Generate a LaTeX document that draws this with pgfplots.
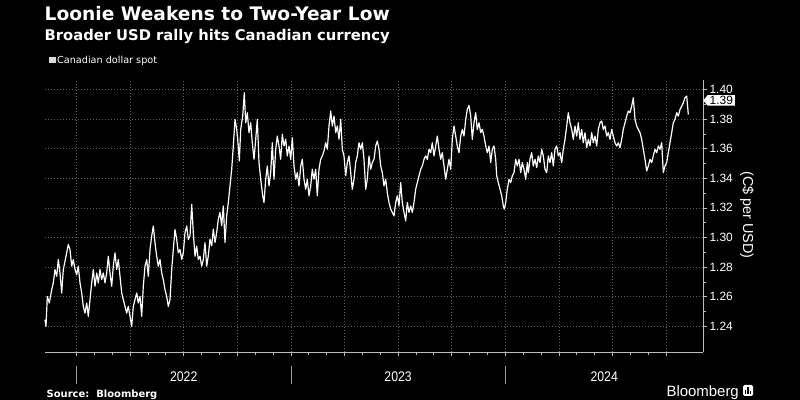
\documentclass[border=0pt]{standalone}
\usepackage{pgfplots}
\pgfplotsset{compat=1.18}
\usepackage{fontspec}
\usetikzlibrary{shapes.symbols}
\setmainfont{DejaVu Sans}
\newfontfamily\lib{Liberation Sans}
\newfontfamily\narrow{Liberation Sans}[FakeStretch=0.88]
\definecolor{gridc}{HTML}{5E5E5E}
\definecolor{axc}{HTML}{BDBDBD}
\begin{document}
\begin{tikzpicture}
\fill[black] (0,0) rectangle (800bp,400bp);
\begin{axis}[
  at={(45bp,48bp)}, anchor=south west, scale only axis,
  width=658bp, height=272bp,
  xmin=45, xmax=703, ymin=1.2226, ymax=1.4064,
  axis x line*=bottom, axis y line*=right,
  axis line style={-, draw=axc, line width=0.8bp},
  xtick={76.5,130.1,183.7,237.3,290.9,344.5,398.1,451.7,505.3,558.9,612.5,666.1},
  xticklabel=\empty,
  minor x tick num=2,
  ytick={1.24,1.26,1.28,1.30,1.32,1.34,1.36,1.38,1.40},
  minor y tick num=1,
  grid=major,
  major grid style={draw=gridc, line width=0.6bp, dash pattern=on 1bp off 2bp},
  tick align=outside, major tick length=4bp, minor tick length=3bp,
  tick style={draw=axc, line width=0.7bp},
  yticklabel pos=right,
  /pgf/number format/assume math mode=true,
  yticklabel style={font=\lib\fontsize{12}{12}\selectfont, text=white, /pgf/number format/fixed, /pgf/number format/fixed zerofill, /pgf/number format/precision=2, xshift=-1bp},
  clip=false,
]
\addplot[white, line width=1.2bp, line join=round] coordinates {
(45,1.2444) (46,1.2399) (47.3,1.2602) (49.3,1.2557) (51.7,1.2647) (53.3,1.2693) (55,1.2783) (56.7,1.2738) (58.3,1.2851) (60,1.2760) (61.7,1.2625) (63.3,1.2783) (66,1.2873) (68.3,1.2953) (70,1.2919) (71.7,1.2806) (73.3,1.2851) (75,1.2783) (76.7,1.2749) (78.3,1.2806) (80,1.2693) (81.7,1.2625) (83.3,1.2534) (85,1.2489) (86.7,1.2557) (88.3,1.2467) (90,1.2580) (91.7,1.2693) (93.3,1.2783) (95,1.2670) (96.7,1.2760) (98.3,1.2693) (100,1.2783) (101.7,1.2715) (103.3,1.2760) (105,1.2693) (106.7,1.2760) (108.3,1.2873) (110,1.2760) (111.7,1.2670) (113.3,1.2806) (115,1.2896) (116.7,1.2783) (118.3,1.2851) (120,1.2738) (121.7,1.2625) (123.3,1.2580) (125,1.2534) (126.7,1.2489) (128.3,1.2534) (130,1.2467) (131.7,1.2399) (133.3,1.2534) (135,1.2580) (136.7,1.2625) (138.3,1.2557) (140,1.2602) (141.7,1.2467) (143.3,1.2670) (145,1.2806) (146.7,1.2851) (148.3,1.2738) (150,1.2919) (151.7,1.3009) (153.3,1.3077) (155,1.2964) (156.7,1.2873) (158.3,1.2806) (160,1.2851) (161.7,1.2760) (163.3,1.2715) (165,1.2647) (166.7,1.2602) (168.3,1.2534) (170,1.2580) (171.7,1.2783) (173.3,1.2919) (175,1.3054) (176.7,1.2986) (178.3,1.2896) (180,1.2919) (181.7,1.2851) (183.3,1.2896) (185,1.3032) (186.7,1.3077) (188.3,1.2986) (190,1.3009) (191.7,1.3224) (193.3,1.3032) (195,1.2873) (196.7,1.2941) (198.3,1.2851) (200,1.2873) (201.7,1.2806) (203.3,1.2851) (205,1.2964) (206.7,1.2806)
(208.3,1.2876) (210,1.2989) (211.7,1.2944) (213.3,1.3056) (215,1.2966) (216.7,1.3034) (218.3,1.3124) (220,1.3169) (221.7,1.3079) (223.3,1.3213) (225,1.2966) (226.7,1.3146) (228.3,1.3236) (230,1.3348) (231.7,1.3461) (233.3,1.3618) (235,1.3798) (236.7,1.3730) (238.3,1.3618) (239.3,1.3517) (240.7,1.3730) (242.7,1.3820) (244.3,1.3978) (245.7,1.3775) (247.3,1.3843) (249,1.3708) (250.7,1.3775) (252.3,1.3640) (254,1.3528) (255.7,1.3663) (257.3,1.3798) (259,1.3506) (260.7,1.3393) (262.7,1.3281) (264,1.3236) (265.7,1.3393) (267.3,1.3483) (269,1.3348) (270.7,1.3438) (272.3,1.3640) (274,1.3393) (275.7,1.3596) (277.3,1.3685) (279,1.3618) (280.7,1.3528) (282.3,1.3697) (284,1.3618) (285.7,1.3663) (287.3,1.3551) (289,1.3618) (290.7,1.3528) (292.3,1.3674) (294,1.3483) (295.7,1.3393) (297.3,1.3438) (299,1.3348) (300.7,1.3483) (302.3,1.3528) (304,1.3393) (305.7,1.3326) (307.3,1.3393) (309,1.3281) (310.7,1.3348) (312.3,1.3461) (314,1.3393) (315.7,1.3461) (317.3,1.3281) (319,1.3461) (320.7,1.3528) (322.3,1.3551) (324,1.3584) (325.7,1.3640) (327.3,1.3596) (329,1.3753) (330.7,1.3854) (332.3,1.3753) (334,1.3820) (335.7,1.3708) (337.3,1.3753) (339,1.3663) (340.7,1.3798) (342.3,1.3596) (344,1.3551) (345.7,1.3416) (347.3,1.3506) (349,1.3551) (350.7,1.3438) (352.3,1.3326) (354,1.3393) (355.7,1.3506) (357.3,1.3551) (359,1.3640) (360.7,1.3596) (362.3,1.3640) (364,1.3528) (365.7,1.3326) (367.3,1.3393) (369,1.3551)
(370.7,1.3461) (372.3,1.3506) (374,1.3528) (375.7,1.3618) (377.3,1.3652) (379,1.3596) (380.7,1.3483) (382.3,1.3438) (384,1.3348) (385.7,1.3393) (387.3,1.3303) (389,1.3236) (390.7,1.3191) (392.3,1.3169) (394,1.3146) (395.7,1.3236) (397.3,1.3281) (399,1.3213) (400.7,1.3371) (402.3,1.3236) (404,1.3169) (405.7,1.3112) (407.3,1.3236) (409,1.3169) (410.7,1.3213) (412.3,1.3169) (414,1.3236) (415.7,1.3326) (417.3,1.3371) (419,1.3416) (420.7,1.3461) (422.3,1.3483) (424,1.3528) (425.7,1.3551) (427.3,1.3528) (429,1.3596) (430.7,1.3573) (432.3,1.3640) (434,1.3551) (435.7,1.3618) (437.3,1.3685) (439,1.3596) (440.7,1.3528) (442.3,1.3573) (444,1.3483) (445.7,1.3393) (447.3,1.3461) (449,1.3528) (450.7,1.3461) (452.3,1.3663) (454,1.3753) (455.7,1.3685) (457.3,1.3618) (459,1.3573) (460.7,1.3685) (462.3,1.3730) (464,1.3685) (465.7,1.3798) (467.3,1.3865) (469,1.3892) (470.7,1.3820) (472.3,1.3663) (474,1.3775) (475.7,1.3843) (477.3,1.3730) (479,1.3775) (480.7,1.3708) (482.3,1.3730) (484,1.3685) (485.7,1.3618) (487.3,1.3573) (489,1.3618) (490.7,1.3506) (492.3,1.3596) (494,1.3618) (495.7,1.3528) (496.7,1.3416) (498.3,1.3371) (500,1.3326) (501.7,1.3281) (503.3,1.3213) (504.3,1.3191) (505.7,1.3236) (507.3,1.3326) (509,1.3393) (510.7,1.3371) (512.3,1.3416) (514,1.3438) (515.7,1.3528) (517.3,1.3483) (519,1.3528) (520.7,1.3438) (522.3,1.3506) (524,1.3461) (525.7,1.3393) (527.3,1.3506)
(528.3,1.3438) (530,1.3528) (531.7,1.3573) (533.3,1.3483) (535,1.3528) (536.7,1.3472) (538.3,1.3551) (540,1.3506) (541.7,1.3596) (543.3,1.3551) (545,1.3461) (546.7,1.3438) (548.3,1.3551) (550,1.3506) (551.7,1.3573) (553.3,1.3483) (555,1.3596) (556.7,1.3618) (558.3,1.3551) (560,1.3573) (561.7,1.3506) (563.3,1.3596) (565,1.3663) (566.7,1.3753) (568.3,1.3843) (570,1.3775) (571.7,1.3730) (573.3,1.3663) (575,1.3753) (576.7,1.3685) (578.3,1.3775) (580,1.3663) (581.7,1.3730) (583.3,1.3640) (585,1.3708) (586.7,1.3607) (588.3,1.3663) (590,1.3618) (591.7,1.3708) (593.3,1.3640) (595,1.3685) (596.7,1.3618) (598.3,1.3730) (600,1.3775) (601.7,1.3787) (603.3,1.3730) (605,1.3753) (606.7,1.3685) (608.3,1.3708) (610,1.3663) (611.7,1.3730) (613.3,1.3685) (615,1.3640) (616.7,1.3618) (618.3,1.3640) (620,1.3607) (621.7,1.3663) (623.3,1.3730) (625,1.3775) (626.7,1.3820) (628.3,1.3854) (630,1.3843) (631.7,1.3888) (633.3,1.3944) (635,1.3798) (636.7,1.3753) (638.3,1.3730) (640,1.3708) (641.7,1.3663) (643.3,1.3596) (645,1.3528) (646.7,1.3449) (648.3,1.3483) (650,1.3528) (651.7,1.3506) (653.3,1.3551) (655,1.3596) (656.7,1.3573) (658.3,1.3618) (660,1.3596) (661.7,1.3640) (663.3,1.3438) (665,1.3483) (666.7,1.3506) (668.3,1.3573) (670,1.3640) (671.7,1.3708) (673.3,1.3775) (675,1.3798) (676.7,1.3843) (678.3,1.3820) (680,1.3865) (681.7,1.3888) (683.3,1.3910) (685,1.3944) (686.7,1.3955) (688.3,1.3831)
};
\node[signal, signal to=west, signal pointer angle=100, fill=white, text=black, inner xsep=2bp, inner ysep=1bp, anchor=west, font=\lib\fontsize{12}{12}\selectfont] at (axis cs:703,1.3926) {1.39};
\end{axis}
% titles
\node[anchor=base west, inner sep=0, text=white, font=\bfseries\fontsize{18.7}{21}\selectfont] at (44.5bp,379bp) {Loonie Weakens to Two-Year Low};
\node[anchor=base west, inner sep=0, text=white, font=\bfseries\fontsize{14.8}{17}\selectfont] at (44.5bp,359bp) {Broader USD rally hits Canadian currency};
\node[anchor=base west, inner sep=0, text=white, font=\fontsize{9.7}{11}\selectfont] at (49bp,336.5bp) {\textcolor{white!85!black}{\rule{6.5bp}{6.5bp}}\hspace{1.5bp}Canadian dollar spot};
% y label
\node[rotate=-90, text=white, font=\lib\fontsize{14.5}{15}\selectfont, inner sep=0] at (747bp,185bp) {(C\$ per USD)};
% year labels
\node[text=white, font=\narrow\fontsize{14}{14}\selectfont, inner sep=0] at (183.7bp,23bp) {2022};
\node[text=white, font=\narrow\fontsize{14}{14}\selectfont, inner sep=0] at (398.1bp,23bp) {2023};
\node[text=white, font=\narrow\fontsize{14}{14}\selectfont, inner sep=0] at (604.2bp,23bp) {2024};
\draw[gray!80!white, line width=0.7bp] (76.5bp,16bp) -- (76.5bp,34bp) (290.9bp,16bp) -- (290.9bp,34bp) (505.3bp,16bp) -- (505.3bp,34bp);
% footer
\node[anchor=base west, inner sep=0, text=white, font=\bfseries\fontsize{10}{12}\selectfont] at (46.5bp,3bp) {Source:\ \ Bloomberg};
\node[anchor=base east, inner sep=0, text=white, font=\lib\fontsize{15}{15}\selectfont] at (739bp,4bp) {Bloomberg};
\fill[white, rounded corners=1.5bp] (743bp,4bp) rectangle (753bp,15bp);
\draw[black, line width=1.1bp] (745.6bp,6bp) -- (745.6bp,10bp) (748bp,6bp) -- (748bp,12.5bp) (750.4bp,6bp) -- (750.4bp,9bp);
\pgfresetboundingbox
\useasboundingbox (0,0) rectangle (800bp,400bp);
\end{tikzpicture}
\end{document}
